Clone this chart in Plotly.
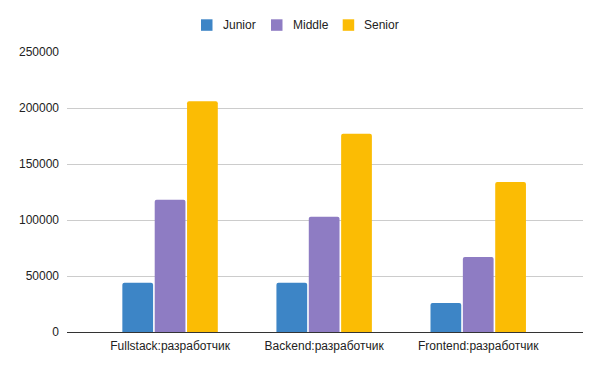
import plotly.graph_objects as go

categories = ["Fullstack:разработчик", "Backend:разработчик", "Frontend:разработчик"]
junior = [44000, 44000, 26000]
middle = [118000, 103000, 67000]
senior = [206000, 177000, 134000]
series_names = ["Junior", "Middle", "Senior"]
colors = ["#3d85c6", "#8e7cc3", "#fbbc04"]

# page body has an 8px default margin; compensate in figure margins
OFF = 8
L, R, T, B = 67 - OFF, 25, 52 - OFF, 47
W, H = 600, 371
PW = W - L - R
PH = H - T - B

def px_x(x):
    return (x - OFF - L) / PW

def px_y(y):
    return (H - B - (y - OFF)) / PH

fig = go.Figure()
for name, vals, col in zip(series_names, [junior, middle, senior], colors):
    fig.add_trace(go.Bar(x=categories, y=vals, name=name, showlegend=False,
                         marker=dict(color=col, line=dict(width=0), cornerradius=2)))

# custom legend (positions in window pixels)
legend_sq_x = [201, 271, 342.7]
for name, col, sx in zip(series_names, colors, legend_sq_x):
    fig.add_shape(type="rect", xref="paper", yref="paper",
                  x0=px_x(sx), x1=px_x(sx + 11.5), y0=px_y(30.8), y1=px_y(19.3),
                  fillcolor=col, line=dict(width=0), layer="above")
    fig.add_annotation(text=name, xref="paper", yref="paper", x=px_x(sx + 19.5),
                       y=px_y(25), xanchor="left", yanchor="middle", showarrow=False,
                       font=dict(size=12, color="#222222"))

fig.update_layout(
    width=W, height=H,
    margin=dict(l=L, r=R, t=T, b=B, autoexpand=False),
    paper_bgcolor="white", plot_bgcolor="white",
    font=dict(family="Arial, Liberation Sans, sans-serif", size=12, color="#222222"),
    barmode="group", bargap=0.37, bargroupgap=0.05,
    xaxis=dict(range=[-0.669, 2.68], showgrid=False, ticks="", showline=False,
               ticklabelstandoff=5,
               tickfont=dict(size=12, color="#222222")),
    yaxis=dict(range=[0, 250000], dtick=50000, tickformat="d", showgrid=True,
               gridcolor="#cccccc", gridwidth=1, zeroline=True, zerolinecolor="#333333",
               zerolinewidth=1, ticks="", ticklabelstandoff=7,
               tickfont=dict(size=12, color="#222222")),
)

fig.write_html("out.html")
